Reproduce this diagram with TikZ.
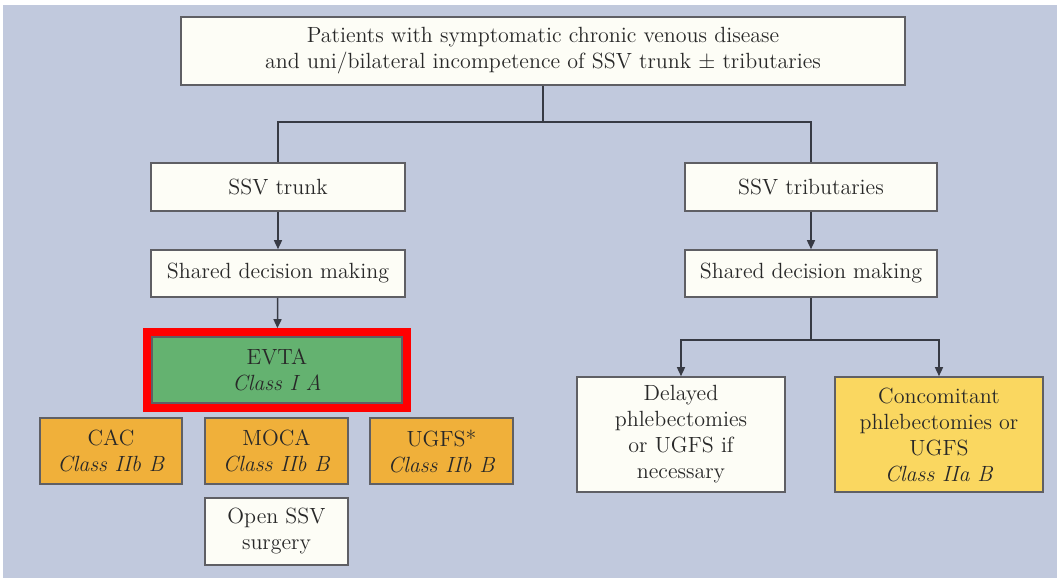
\documentclass[tikz,border=0pt]{standalone}
\usepackage{tikz}
\usetikzlibrary{arrows.meta,positioning,fit,calc}
\definecolor{bgcolor}{RGB}{193,201,221}
\definecolor{paper}{RGB}{253,253,246}
\definecolor{evtacolor}{RGB}{100,178,112}
\definecolor{iibcolor}{RGB}{240,176,58}
\definecolor{iiacolor}{RGB}{250,215,96}
\definecolor{edgecolor}{RGB}{95,95,100}
\definecolor{linecolor}{RGB}{55,58,68}
\definecolor{textcolor}{RGB}{40,40,40}

\begin{document}
\begin{tikzpicture}[
    x=0.5pt, y=-0.5pt,
    every node/.style={font=\fontsize{11}{13}\selectfont, text=textcolor},
    box/.style={rectangle, draw=edgecolor, line width=0.8pt, fill=paper, align=center, inner sep=2pt},
    line/.style={draw=linecolor, line width=0.75pt},
    arrow/.style={line, -{Triangle[length=4.5pt,width=4pt]}}
]
    % Background
    \fill[white] (0,0) rectangle (1057,582);
    \fill[bgcolor] (3,5) rectangle (1057,578);

    % Nodes
    \node[box, minimum width=362pt, minimum height=34pt] (patients) at (543,51)
        {Patients with symptomatic chronic venous disease\\and uni/bilateral incompetence of SSV trunk $\pm$ tributaries};
    \node[box, minimum width=127pt, minimum height=24pt] (trunk) at (278,187) {SSV trunk};
    \node[box, minimum width=126pt, minimum height=24pt] (tributaries) at (811,187) {SSV tributaries};
    \node[box, minimum width=127pt, minimum height=23.5pt] (decisionA) at (278,273.5) {Shared decision making};
    \node[box, minimum width=126pt, minimum height=23.5pt] (decisionB) at (811,273.5) {Shared decision making};

    % Trunk options
    \node[box, fill=evtacolor, minimum width=125pt, minimum height=33pt] (evta) at (277,370) {EVTA\\\textit{Class I A}};
    \node[draw=red, line width=4pt, inner sep=2pt, fit=(evta)] (frame) {};
    \node[box, fill=iibcolor, minimum width=71pt, minimum height=33pt] (cac) at (111,451) {CAC\\\textit{Class IIb B}};
    \node[box, fill=iibcolor, minimum width=71.5pt, minimum height=33pt] (moca) at (276.5,451) {MOCA\\\textit{Class IIb B}};
    \node[box, fill=iibcolor, minimum width=71.5pt, minimum height=33pt] (ugfs) at (441.5,451) {UGFS*\\\textit{Class IIb B}};
    \node[box, minimum width=71.5pt, minimum height=33.5pt] (open) at (276.5,531.5) {Open SSV\\surgery};

    % Tributary options
    \node[box, minimum width=104pt, minimum height=57.5pt] (delayed) at (681,434.5)
        {Delayed\\phlebectomies\\or UGFS if\\necessary};
    \node[box, fill=iiacolor, minimum width=104pt, minimum height=57.5pt] (concomitant) at (939,434.5)
        {Concomitant\\phlebectomies or\\UGFS\\\textit{Class IIa B}};

    % Arrows
    \coordinate (split) at (543,122);
    \coordinate (splitB) at (811,340);
    \draw[line] (patients.south) -- (split);
    \draw[line] (split) -| (trunk.north);
    \draw[line] (split) -| (tributaries.north);
    \draw[arrow] (trunk) -- (decisionA);
    \draw[arrow] (tributaries) -- (decisionB);
    \draw[arrow] (decisionA) -- (frame);
    \draw[line] (decisionB.south) -- (splitB);
    \draw[arrow] (splitB) -| (delayed.north);
    \draw[arrow] (splitB) -| (concomitant.north);
\end{tikzpicture}
\end{document}
